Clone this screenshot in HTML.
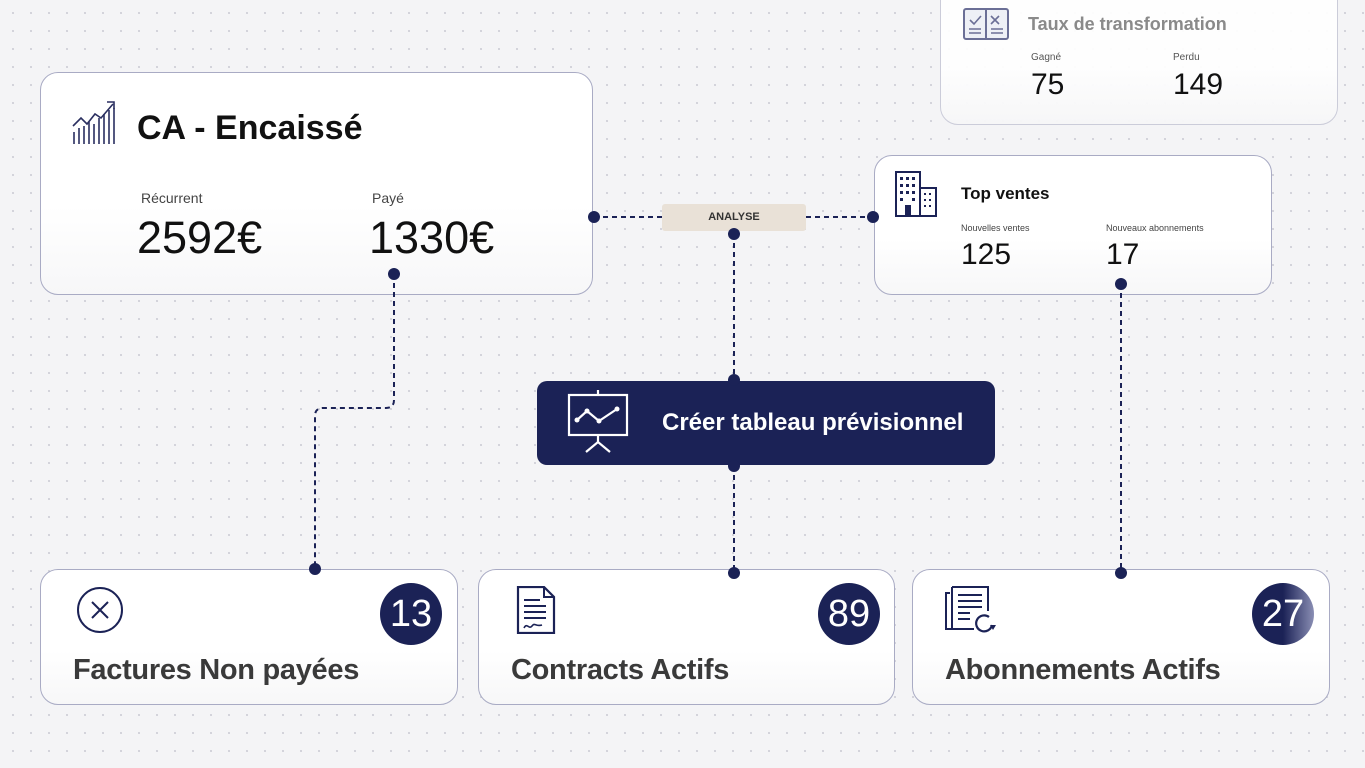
<!DOCTYPE html>
<html><head><meta charset="utf-8"><style>
*{margin:0;padding:0;box-sizing:border-box}
body{width:1365px;height:768px;overflow:hidden;font-family:"Liberation Sans",sans-serif;background:#f4f4f6;
background-image:radial-gradient(circle,#cdcdd6 0.8px,transparent 1.2px);background-size:18px 18px;background-position:4px 4px;position:relative}
.card{position:absolute;background:linear-gradient(180deg,#fff 0%,#fff 60%,#f7f7f8 100%);border:1px solid #a9abc4;border-radius:18px}
.t{position:absolute;white-space:nowrap}
.badge{position:absolute;width:62px;height:62px;border-radius:50%;background:#1b2256;color:#fff;font-size:38px;text-align:center;line-height:62px}
.big{font-size:29px;font-weight:bold;color:#3a3a3a;letter-spacing:-0.3px}
svg.l{position:absolute;left:0;top:0}
</style></head><body>

<div class="card" style="left:940px;top:-20px;width:398px;height:145px;border-color:#c9cad8;opacity:.95"></div>
<svg style="position:absolute;left:963px;top:7px" width="46" height="34" viewBox="0 0 46 34"><rect x="1" y="2" width="44" height="30" rx="2" fill="#eef0f6" stroke="#6b6f96" stroke-width="2"/><line x1="23" y1="2" x2="23" y2="32" stroke="#6b6f96" stroke-width="2"/><path d="M7 13l4 4 7-8M28 9l8 8M36 9l-8 8" stroke="#6b6f96" stroke-width="1.6" fill="none"/><path d="M6 22h12M6 26h12M28 22h12M28 26h12" stroke="#6b6f96" stroke-width="1.6"/></svg>
<div class="t" style="left:1028px;top:14px;font-size:18px;font-weight:bold;color:#8a8a8a">Taux de transformation</div>
<div class="t" style="left:1031px;top:52px;font-size:10px;color:#555">Gagné</div>
<div class="t" style="left:1173px;top:52px;font-size:10px;color:#555">Perdu</div>
<div class="t" style="left:1031px;top:68px;font-size:30px;color:#111">75</div>
<div class="t" style="left:1173px;top:68px;font-size:30px;color:#111">149</div>

<div class="card" style="left:40px;top:72px;width:553px;height:223px"></div>
<svg style="position:absolute;left:71px;top:100px" width="46" height="46" viewBox="0 0 46 46"><g stroke="#2a2f60" stroke-width="1.6"><line x1="3" y1="44" x2="3" y2="32"/><line x1="8" y1="44" x2="8" y2="28"/><line x1="13" y1="44" x2="13" y2="26"/><line x1="18" y1="44" x2="18" y2="22"/><line x1="23" y1="44" x2="23" y2="24"/><line x1="28" y1="44" x2="28" y2="18"/><line x1="33" y1="44" x2="33" y2="14"/><line x1="38" y1="44" x2="38" y2="10"/><line x1="43" y1="44" x2="43" y2="8"/><path d="M2 26l8-8 6 6 8-10 6 4 12-14" fill="none"/><path d="M36 2h7v7" fill="none"/></g></svg>
<div class="t" style="left:137px;top:109px;font-size:34px;font-weight:bold;color:#111">CA - Encaissé</div>
<div class="t" style="left:141px;top:190px;font-size:14px;color:#444">Récurrent</div>
<div class="t" style="left:372px;top:190px;font-size:14px;color:#444">Payé</div>
<div class="t" style="left:137px;top:212px;font-size:45px;color:#111">2592€</div>
<div class="t" style="left:369px;top:212px;font-size:45px;color:#111">1330€</div>

<div class="card" style="left:874px;top:155px;width:398px;height:140px"></div>
<svg style="position:absolute;left:895px;top:171px" width="42" height="46" viewBox="0 0 42 46"><rect x="1" y="1" width="24" height="44" fill="none" stroke="#1b2256" stroke-width="2"/><rect x="25" y="17" width="16" height="28" fill="none" stroke="#1b2256" stroke-width="2"/><g fill="#1b2256"><rect x="5" y="6" width="3" height="3"/><rect x="11" y="6" width="3" height="3"/><rect x="17" y="6" width="3" height="3"/><rect x="5" y="13" width="3" height="3"/><rect x="11" y="13" width="3" height="3"/><rect x="17" y="13" width="3" height="3"/><rect x="5" y="20" width="3" height="3"/><rect x="11" y="20" width="3" height="3"/><rect x="17" y="20" width="3" height="3"/><rect x="5" y="27" width="3" height="3"/><rect x="17" y="27" width="3" height="3"/><rect x="10" y="34" width="6" height="11"/><rect x="29" y="22" width="2" height="2"/><rect x="34" y="22" width="2" height="2"/><rect x="29" y="28" width="2" height="2"/><rect x="34" y="28" width="2" height="2"/><rect x="29" y="34" width="2" height="2"/><rect x="34" y="34" width="2" height="2"/></g></svg>
<div class="t" style="left:961px;top:184px;font-size:17px;font-weight:bold;color:#111">Top ventes</div>
<div class="t" style="left:961px;top:223px;font-size:9px;color:#444">Nouvelles ventes</div>
<div class="t" style="left:1106px;top:223px;font-size:9px;color:#444">Nouveaux abonnements</div>
<div class="t" style="left:961px;top:238px;font-size:30px;color:#111">125</div>
<div class="t" style="left:1106px;top:238px;font-size:30px;color:#111">17</div>

<div style="position:absolute;left:662px;top:204px;width:144px;height:27px;background:#e9e1d7;border-radius:3px;text-align:center;line-height:27px;font-size:11px;font-weight:bold;color:#333">ANALYSE</div>

<div style="position:absolute;left:537px;top:381px;width:458px;height:84px;background:#1b2256;border-radius:10px"></div>
<svg style="position:absolute;left:566px;top:390px" width="64" height="64" viewBox="0 0 64 64"><g stroke="#fff" stroke-width="2.2" fill="none"><rect x="3" y="5" width="58" height="40"/><line x1="32" y1="0" x2="32" y2="5"/><line x1="32" y1="45" x2="32" y2="52"/><path d="M20 62l12-10 12 10"/><path d="M11 30l10-9 12 10 18-12"/></g><g fill="#fff"><circle cx="11" cy="30" r="2.5"/><circle cx="21" cy="21" r="2.5"/><circle cx="33" cy="31" r="2.5"/><circle cx="51" cy="19" r="2.5"/></g></svg>
<div class="t" style="left:662px;top:409px;font-size:24px;font-weight:bold;color:#fff">Créer tableau prévisionnel</div>

<div class="card" style="left:40px;top:569px;width:418px;height:136px"></div>
<svg style="position:absolute;left:76px;top:586px" width="48" height="48" viewBox="0 0 48 48"><circle cx="24" cy="24" r="22" fill="none" stroke="#1b2256" stroke-width="2"/><path d="M16 16l16 16M32 16l-16 16" stroke="#1b2256" stroke-width="2"/></svg>
<div class="badge" style="left:380px;top:583px">13</div>
<div class="t big" style="left:73px;top:654px">Factures Non payées</div>

<div class="card" style="left:478px;top:569px;width:417px;height:136px"></div>
<svg style="position:absolute;left:516px;top:586px" width="40" height="48" viewBox="0 0 40 48"><path d="M2 1h26l10 10v36H2z" fill="none" stroke="#1b2256" stroke-width="2.2"/><path d="M28 1v10h10" fill="none" stroke="#1b2256" stroke-width="2"/><path d="M8 14h16M8 20h22M8 26h22M8 32h22" stroke="#1b2256" stroke-width="2"/><path d="M8 42c3-6 5 2 8-2s3 1 10-1" stroke="#1b2256" stroke-width="1.6" fill="none"/></svg>
<div class="badge" style="left:818px;top:583px">89</div>
<div class="t big" style="left:511px;top:654px">Contracts Actifs</div>

<div class="card" style="left:912px;top:569px;width:418px;height:136px"></div>
<svg style="position:absolute;left:944px;top:585px" width="54" height="50" viewBox="0 0 54 50"><path d="M6 8H2v36h8" fill="none" stroke="#1b2256" stroke-width="2"/><path d="M8 2h36v24M8 2v42h22" fill="none" stroke="#1b2256" stroke-width="2"/><path d="M14 10h24M14 16h24M14 22h24M14 28h12M14 34h12" stroke="#1b2256" stroke-width="2"/><path d="M48 40a8 8 0 1 1-3-8" fill="none" stroke="#1b2256" stroke-width="2.2"/><path d="M46 40l3 5 3-5" fill="#1b2256"/></svg>
<div class="badge" style="left:1252px;top:583px;background:linear-gradient(90deg,#1b2256 50%,#8a8eb4)">27</div>
<div class="t big" style="left:945px;top:654px">Abonnements Actifs</div>

<svg class="l" width="1365" height="768"><g stroke="#1b2256" stroke-width="2" stroke-dasharray="5,4" fill="none">
<path d="M594 217H662M806 217H873"/>
<path d="M734 234V380M734 466V573"/>
<path d="M394 274V400q0 8-8 8H323q-8 0-8 8V569"/>
<path d="M1121 284V573"/></g>
<g fill="#1b2256"><circle cx="594" cy="217" r="6"/><circle cx="873" cy="217" r="6"/><circle cx="734" cy="234" r="6"/><circle cx="394" cy="274" r="6"/><circle cx="734" cy="380" r="6"/><circle cx="734" cy="466" r="6"/><circle cx="315" cy="569" r="6"/><circle cx="734" cy="573" r="6"/><circle cx="1121" cy="284" r="6"/><circle cx="1121" cy="573" r="6"/></g></svg>
</body></html>
